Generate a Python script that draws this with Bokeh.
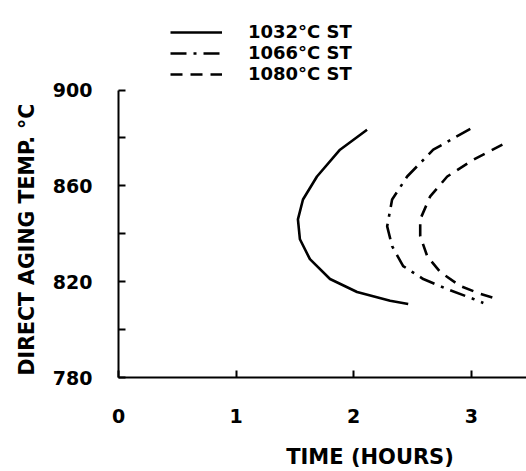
from bokeh.plotting import figure
from bokeh.models import FixedTicker, Legend, LegendItem, Title, Range1d
from bokeh.embed import file_html
from bokeh.resources import INLINE

# --- data ---
st1032_time = [2.114, 1.884, 1.688, 1.569, 1.526, 1.543, 1.628, 1.799, 2.029, 2.310, 2.464]
st1032_temp = [883.4, 875.1, 863.9, 854.3, 846.0, 837.7, 829.4, 821.1, 815.7, 812.0, 810.7]

st1066_time = [2.992, 2.677, 2.455, 2.327, 2.285, 2.327, 2.421, 2.592, 2.796, 3.018, 3.103]
st1066_temp = [883.8, 875.1, 863.9, 854.3, 843.1, 834.8, 826.5, 821.1, 816.9, 812.8, 811.1]

st1080_time = [3.265, 3.018, 2.796, 2.651, 2.566, 2.566, 2.626, 2.737, 2.907, 3.078, 3.222]
st1080_temp = [877.2, 870.9, 863.9, 855.6, 846.0, 839.0, 830.6, 824.0, 818.2, 814.9, 812.8]

series_labels = ["1032°C ST", "1066°C ST", "1080°C ST"]
x_ticks = [0, 1, 2, 3]
y_major_ticks = [780, 820, 860, 900]
y_minor_ticks = [800, 840, 880]

FONT = "DejaVu Sans"
NBSP = "\u00a0"

p = figure(width=526, height=471, output_backend="svg", toolbar_location=None,
           x_range=Range1d(0, 3.47), y_range=Range1d(780, 935.7),
           min_border_left=118, min_border_right=0, min_border_top=4, min_border_bottom=92)
p.outline_line_color = None
p.grid.visible = False
p.background_fill_color = "white"

r1 = p.line(st1032_time, st1032_temp, line_color="black", line_width=2.6)
r2 = p.line(st1066_time, st1066_temp, line_color="black", line_width=2.6, line_dash="16 7 3 7")
r3 = p.line(st1080_time, st1080_temp, line_color="black", line_width=2.6, line_dash="12 8")

# axes
xa = p.xaxis[0]
xa.ticker = FixedTicker(ticks=x_ticks)
xa.major_tick_in = 7
xa.major_tick_out = 0
xa.minor_tick_line_color = None
xa.axis_line_width = 2
xa.major_tick_line_width = 2
xa.major_label_standoff = 31
xa.major_label_text_font = FONT
xa.major_label_text_font_style = "bold"
xa.major_label_text_font_size = "19px"
xa.major_label_text_color = "black"
xa.axis_label = NBSP * 13 + "TIME (HOURS)"
xa.axis_label_standoff = 19
xa.axis_label_text_font = FONT
xa.axis_label_text_font_style = "bold"
xa.axis_label_text_font_size = "21px"
xa.axis_label_text_color = "black"

ya = p.yaxis[0]
ya.ticker = FixedTicker(ticks=y_major_ticks, minor_ticks=y_minor_ticks)
ya.bounds = (780, 900)
ya.major_tick_in = 7
ya.major_tick_out = 0
ya.minor_tick_in = 7
ya.minor_tick_out = 0
ya.axis_line_width = 2
ya.major_tick_line_width = 2
ya.minor_tick_line_width = 2
ya.major_label_standoff = 26
ya.major_label_text_font = FONT
ya.major_label_text_font_style = "bold"
ya.major_label_text_font_size = "19px"
ya.major_label_text_color = "black"

p.add_layout(Title(text="DIRECT AGING TEMP. °C", align="left", offset=2, standoff=22,
                   text_font=FONT, text_font_style="bold", text_font_size="20.5px",
                   text_color="black"), "left")

# legend: one single-item legend per row so the row pitch matches the reference
rows_y = [335, 314, 293]
for lab, rend, yy in zip(series_labels, [r1, r2, r3], rows_y):
    lg = Legend(items=[LegendItem(label=lab, renderers=[rend])],
                location=(52, yy), padding=0, margin=0, spacing=0,
                glyph_width=52, glyph_height=20, label_height=20, label_standoff=26,
                border_line_color=None, background_fill_alpha=0,
                label_text_font=FONT, label_text_font_style="bold",
                label_text_font_size="18px", label_text_color="black")
    p.add_layout(lg, "center")

open("out.html", "w").write(file_html(p, INLINE))
